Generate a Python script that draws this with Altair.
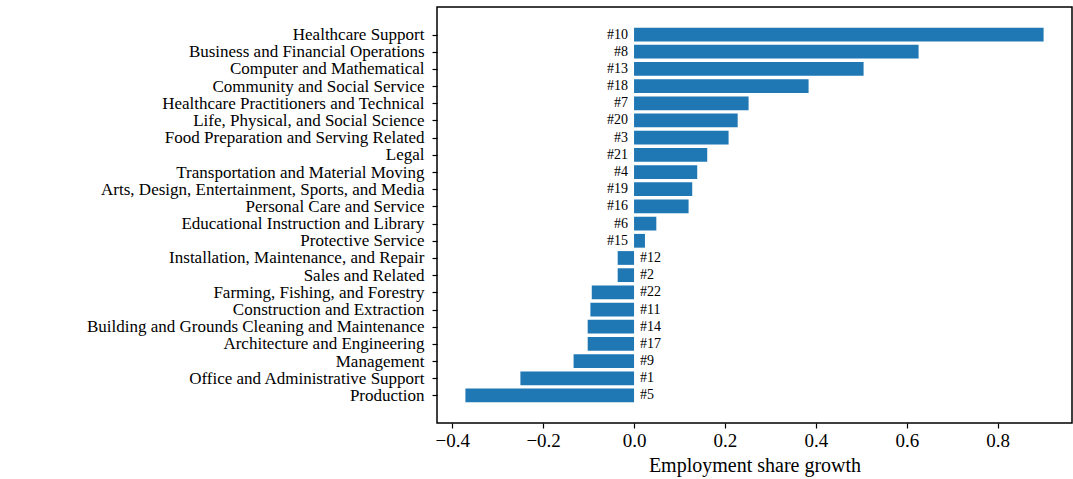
import json
import altair as alt
import pandas as pd

categories = [
    "Healthcare Support",
    "Business and Financial Operations",
    "Computer and Mathematical",
    "Community and Social Service",
    "Healthcare Practitioners and Technical",
    "Life, Physical, and Social Science",
    "Food Preparation and Serving Related",
    "Legal",
    "Transportation and Material Moving",
    "Arts, Design, Entertainment, Sports, and Media",
    "Personal Care and Service",
    "Educational Instruction and Library",
    "Protective Service",
    "Installation, Maintenance, and Repair",
    "Sales and Related",
    "Farming, Fishing, and Forestry",
    "Construction and Extraction",
    "Building and Grounds Cleaning and Maintenance",
    "Architecture and Engineering",
    "Management",
    "Office and Administrative Support",
    "Production",
]
values = [0.901, 0.626, 0.505, 0.384, 0.252, 0.228, 0.208, 0.161, 0.139, 0.128,
          0.120, 0.049, 0.024, -0.036, -0.036, -0.093, -0.096, -0.102, -0.102,
          -0.133, -0.250, -0.371]
ranks = [10, 8, 13, 18, 7, 20, 3, 21, 4, 19, 16, 6, 15, 12, 2, 22, 11, 14, 17, 9, 1, 5]
tick_values = [-0.4, -0.2, 0.0, 0.2, 0.4, 0.6, 0.8]

df = pd.DataFrame({
    "occupation": categories,
    "idx": list(range(len(categories))),
    "growth": values,
    "rank": ["#%d" % r for r in ranks],
})

FONT = "Liberation Serif"

label_expr = json.dumps(categories) + "[datum.value]"
y_scale = alt.Scale(domain=[-1.6, 22.6], reverse=True, nice=False, zero=False)
y_axis = alt.Axis(title=None, values=list(range(len(categories))), labelExpr=label_expr,
                  labelFontSize=17, labelFont=FONT, labelColor="black",
                  tickSize=5, tickColor="black", tickWidth=1.2, labelPadding=8,
                  domain=False, grid=False, labelLimit=0, labelBaseline="middle",
                  labelOverlap=False, labelBound=False)

x_scale = alt.Scale(domain=[-0.4335, 0.9635], nice=False, zero=False)
x_axis = alt.Axis(values=tick_values, format=".1f", title="Employment share growth",
                  titleFont=FONT, titleFontSize=20, titleFontWeight="normal",
                  titleColor="black", titlePadding=5,
                  labelFont=FONT, labelFontSize=19, labelColor="black",
                  labelPadding=3, tickSize=5, tickColor="black", tickWidth=1.2,
                  domain=False, grid=False, labelOverlap=False)

base = alt.Chart(df).transform_calculate(y0="datum.idx - 0.4", y1="datum.idx + 0.4")

bars = base.mark_bar(color="#1f77b4").encode(
    x=alt.X("growth:Q", scale=x_scale, axis=x_axis),
    x2=alt.X2(datum=0),
    y=alt.Y("y0:Q", scale=y_scale, axis=y_axis),
    y2="y1:Q",
)

pos_labels = alt.Chart(df).transform_filter("datum.growth >= 0").mark_text(
    align="right", baseline="middle", dx=-6, fontSize=14, font=FONT, color="black"
).encode(x=alt.X(datum=0, scale=x_scale, axis=x_axis),
         y=alt.Y("idx:Q", scale=y_scale, axis=y_axis), text="rank:N")

neg_labels = alt.Chart(df).transform_filter("datum.growth < 0").mark_text(
    align="left", baseline="middle", dx=6, fontSize=14, font=FONT, color="black"
).encode(x=alt.X(datum=0, scale=x_scale, axis=x_axis),
         y=alt.Y("idx:Q", scale=y_scale, axis=y_axis), text="rank:N")

chart = alt.layer(bars, pos_labels, neg_labels).properties(
    width=635, height=416,
    background="white",
    autosize=alt.AutoSizeParams(type="none"),
    padding={"left": 437, "top": 7, "right": 1, "bottom": 56},
).configure_view(stroke="black", strokeWidth=1.5)

chart.save("out.html", embed_options={"renderer": "svg", "actions": False})
